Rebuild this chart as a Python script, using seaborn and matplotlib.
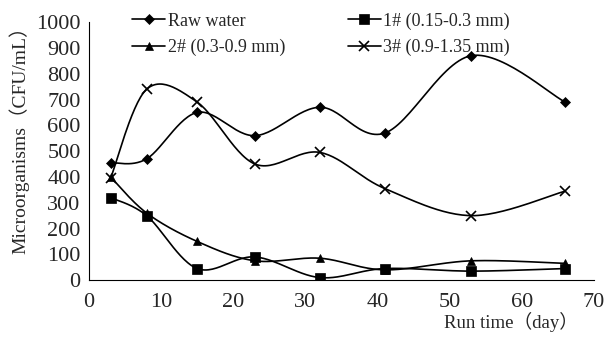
import numpy as np
import pandas as pd
import matplotlib
matplotlib.use("Agg")
import matplotlib.pyplot as plt
from matplotlib.lines import Line2D
import seaborn as sns

days = [3, 8, 15, 23, 32, 41, 53, 66]
raw_water = [455, 470, 650, 560, 670, 570, 870, 690]
f1 = [320, 250, 45, 90, 10, 45, 35, 45]
f2 = [400, 260, 150, 75, 85, 40, 75, 65]
f3 = [395, 740, 690, 450, 495, 355, 250, 345]
labels = ["Raw water", "1# (0.15-0.3 mm)", "2# (0.3-0.9 mm)", "3# (0.9-1.35 mm)"]
markers = ["D", "s", "^", "x"]
msizes = [5, 7, 6, 7]
xticks = [0, 10, 20, 30, 40, 50, 60, 70]
yticks = [0, 100, 200, 300, 400, 500, 600, 700, 800, 900, 1000]

sns.set_style("white")
plt.rcParams["font.family"] = ["Liberation Serif", "Noto Sans CJK SC"]
plt.rcParams["font.size"] = 13


def smooth(x, y, n=30):
    # Excel-style smoothed line (parametric Catmull-Rom / Bezier)
    x = np.asarray(x, float); y = np.asarray(y, float)
    px = np.concatenate([[x[0]], x, [x[-1]]])
    py = np.concatenate([[y[0]], y, [y[-1]]])
    xs, ys = [], []
    t = np.linspace(0, 1, n)
    for i in range(1, len(px) - 2):
        p0 = np.array([px[i], py[i]]); p3 = np.array([px[i + 1], py[i + 1]])
        c1 = p0 + (np.array([px[i + 1], py[i + 1]]) - np.array([px[i - 1], py[i - 1]])) / 6
        c2 = p3 - (np.array([px[i + 2], py[i + 2]]) - np.array([px[i], py[i]])) / 6
        b = ((1 - t) ** 3)[:, None] * p0 + (3 * (1 - t) ** 2 * t)[:, None] * c1 \
            + (3 * (1 - t) * t ** 2)[:, None] * c2 + (t ** 3)[:, None] * p3
        xs.extend(b[:, 0]); ys.extend(b[:, 1])
    return np.array(xs), np.array(ys)


fig = plt.figure(figsize=(6.05, 3.40), dpi=100)
ax = fig.add_axes([0.147, 0.176, 0.835, 0.759])

series = [raw_water, f1, f2, f3]
for vals, lab, m, ms in zip(series, labels, markers, msizes):
    sx, sy = smooth(days, vals)
    sns.lineplot(x=sx, y=sy, sort=False, ax=ax, color="black", linewidth=1.2, estimator=None)
    df = pd.DataFrame({"day": days, "v": vals})
    ax.plot(df["day"], df["v"], linestyle="none", marker=m, markersize=ms,
            color="black", markeredgewidth=1.2 if m == "x" else 0.5)

ax.set_xlim(0, 70)
ax.set_ylim(0, 1000)
ax.set_xticks(xticks)
ax.set_yticks(yticks)
ax.tick_params(direction="in", length=5, width=0.8, labelsize=16)
ax.tick_params(axis="y", pad=6)
ax.tick_params(axis="x", pad=9)
for s in ["top", "right"]:
    ax.spines[s].set_visible(False)
for s in ["left", "bottom"]:
    ax.spines[s].set_color("black")
    ax.spines[s].set_linewidth(0.8)

ax.set_ylabel("Microorganisms（CFU/mL）", fontsize=14)
ax.yaxis.set_label_coords(-0.118, 0.56)
ax.set_xlabel("Run time（day）", fontsize=13.5)
ax.xaxis.set_label_coords(0.836, -0.125)

handles = [Line2D([0], [0], color="black", linewidth=1.2, marker=m, markersize=ms,
                  markeredgewidth=1.2 if m == "x" else 0.5)
           for m, ms in zip(markers, msizes)]
order = [0, 2, 1, 3]
fig.legend([handles[i] for i in order], [labels[i] for i in order], ncol=2,
           loc="upper left", bbox_to_anchor=(0.207, 0.985),
           frameon=False, fontsize=13, handlelength=1.8, handletextpad=0.15,
           columnspacing=3.5, labelspacing=0.5, borderaxespad=0)

fig.savefig("out.png", dpi=100)
